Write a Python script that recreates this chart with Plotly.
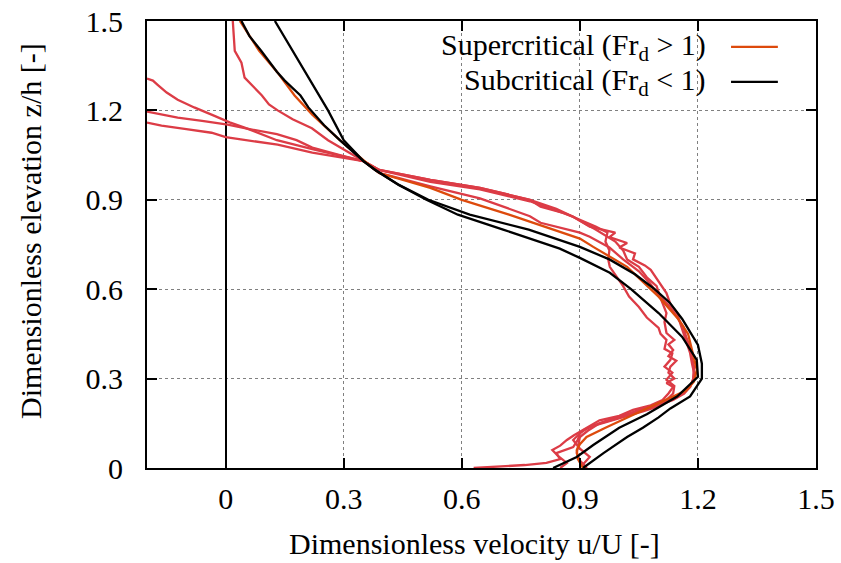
import plotly.graph_objects as go

# ---------------- data (u/U, z/h) ----------------
# Measured supercritical profiles (red)
r1_z = [1.50, 1.45, 1.40, 1.36, 1.33, 1.31, 1.28, 1.25, 1.22, 1.20, 1.17, 1.14, 1.10, 1.07, 1.03,
        0.99, 0.945, 0.905, 0.845, 0.823, 0.79, 0.776, 0.74, 0.70, 0.66, 0.62, 0.58, 0.54, 0.50,
        0.474, 0.44, 0.406, 0.37, 0.34, 0.30, 0.272, 0.25, 0.228, 0.205, 0.185, 0.165, 0.15, 0.125,
        0.104, 0.075, 0.05, 0.025, 0.0]
r1_u = [0.018, 0.02, 0.023, 0.04, 0.045, 0.048, 0.07, 0.092, 0.11, 0.132, 0.17, 0.219, 0.26, 0.30, 0.35,
        0.39, 0.52, 0.646, 0.773, 0.80, 0.90, 0.925, 0.975, 1.01, 1.05, 1.078, 1.10, 1.13, 1.15,
        1.163, 1.17, 1.18, 1.185, 1.19, 1.188, 1.18, 1.16, 1.12, 1.08, 1.035, 0.99, 0.95, 0.92,
        0.90, 0.895, 0.892, 0.90, 0.918]

r2_z = [1.307, 1.30, 1.286, 1.26, 1.236, 1.21, 1.186, 1.16, 1.142, 1.12, 1.10, 1.07, 1.045, 1.03,
        1.0, 0.967, 0.94, 0.90, 0.877, 0.855, 0.833, 0.81, 0.79, 0.76, 0.73, 0.70, 0.675, 0.64,
        0.61, 0.575, 0.54, 0.505, 0.47, 0.45, 0.43, 0.40, 0.385, 0.363, 0.34, 0.32, 0.296, 0.275,
        0.25, 0.228, 0.205, 0.19, 0.17, 0.155, 0.138, 0.117, 0.095, 0.07, 0.05, 0.03, 0.017,
        0.01, 0.005, 0.0]
r2_u = [-0.2, -0.185, -0.173, -0.15, -0.122, -0.08, -0.036, 0.01, 0.048, 0.09, 0.13, 0.22, 0.30, 0.35,
        0.39, 0.52, 0.646, 0.773, 0.80, 0.86, 0.90, 0.94, 0.97, 0.965, 0.975, 0.972, 0.976, 0.995,
        1.01, 1.025, 1.05, 1.07, 1.10, 1.105, 1.12, 1.115, 1.135, 1.13, 1.115, 1.135, 1.12, 1.14,
        1.137, 1.12, 1.095, 1.06, 1.01, 0.97, 0.925, 0.90, 0.895, 0.883, 0.84, 0.85, 0.815,
        0.76, 0.70, 0.63]

r3_z = [1.196, 1.185, 1.176, 1.165, 1.152, 1.135, 1.12, 1.10, 1.075, 1.05, 1.03,
        1.0, 0.967, 0.94, 0.90, 0.87, 0.843, 0.81, 0.79, 0.775, 0.755, 0.74, 0.72, 0.70, 0.68,
        0.665, 0.625, 0.587, 0.55, 0.52, 0.485, 0.453, 0.42, 0.386, 0.35, 0.32, 0.295, 0.272,
        0.25, 0.228, 0.21, 0.195, 0.175, 0.16, 0.14, 0.128, 0.11, 0.094, 0.065, 0.037, 0.015, 0.0]
r3_u = [-0.2, -0.16, -0.122, -0.06, 0.005, 0.07, 0.13, 0.18, 0.22, 0.29, 0.35,
        0.39, 0.52, 0.646, 0.773, 0.84, 0.883, 0.925, 0.99, 0.975, 1.02, 1.00, 1.04, 1.035, 1.065,
        1.08, 1.10, 1.12, 1.13, 1.147, 1.155, 1.163, 1.17, 1.18, 1.185, 1.19, 1.188, 1.18,
        1.165, 1.137, 1.10, 1.05, 1.01, 0.97, 0.93, 0.91, 0.895, 0.883, 0.90, 0.925, 0.91, 0.908]

r4_z = [1.159, 1.149, 1.137, 1.125, 1.11, 1.10, 1.085, 1.058, 1.03, 1.0, 0.96, 0.935, 0.895,
        0.856, 0.843, 0.80, 0.76, 0.73, 0.70, 0.675, 0.64, 0.61, 0.57, 0.52, 0.49, 0.453, 0.43,
        0.415, 0.396, 0.375, 0.36, 0.34, 0.32, 0.30, 0.285, 0.272, 0.25, 0.228, 0.21, 0.195,
        0.175, 0.16, 0.145, 0.128, 0.11, 0.094, 0.075, 0.06, 0.04, 0.017, 0.0]
r4_u = [-0.2, -0.163, -0.1, -0.036, 0.0, 0.05, 0.132, 0.22, 0.35, 0.39, 0.52, 0.646, 0.773,
        0.857, 0.883, 0.94, 0.99, 1.01, 1.02, 1.05, 1.07, 1.095, 1.105, 1.12, 1.115, 1.12, 1.14,
        1.125, 1.137, 1.125, 1.145, 1.13, 1.125, 1.14, 1.12, 1.137, 1.125, 1.11, 1.08, 1.035,
        1.00, 0.95, 0.93, 0.91, 0.885, 0.867, 0.85, 0.83, 0.845, 0.867, 0.85]

# Mean supercritical profile (orange)
sup_z = [1.50, 1.40, 1.33, 1.25, 1.186, 1.10, 1.03, 0.99, 0.94, 0.90, 0.85, 0.80, 0.77, 0.742,
         0.675, 0.575, 0.50, 0.45, 0.37, 0.33, 0.29, 0.26, 0.218, 0.17, 0.135, 0.104, 0.08, 0.06,
         0.03, 0.0]
sup_u = [0.036, 0.085, 0.13, 0.175, 0.22, 0.29, 0.353, 0.39, 0.52, 0.60, 0.72, 0.83, 0.90, 0.934,
         1.02, 1.10, 1.15, 1.175, 1.19, 1.197, 1.19, 1.17, 1.10, 1.02, 0.965, 0.917, 0.90, 0.892,
         0.895, 0.908]

# Subcritical profiles (black)
sub1_z = [1.50, 1.40, 1.30, 1.20, 1.10, 1.03, 1.00, 0.95, 0.90, 0.85, 0.80, 0.742, 0.70, 0.65,
          0.60, 0.554, 0.50, 0.44, 0.413, 0.35, 0.30, 0.24, 0.20, 0.17, 0.135, 0.104, 0.05, 0.0]
sub1_u = [0.125, 0.17, 0.215, 0.26, 0.30, 0.35, 0.38, 0.44, 0.515, 0.62, 0.77, 0.90, 0.975, 1.04,
          1.09, 1.129, 1.16, 1.187, 1.20, 1.21, 1.21, 1.18, 1.13, 1.10, 1.06, 1.02, 0.96, 0.908]

sub2_z = [1.50, 1.45, 1.40, 1.33, 1.30, 1.25, 1.21, 1.15, 1.10, 1.03, 1.00, 0.95, 0.90, 0.85,
          0.80, 0.736, 0.705, 0.655, 0.60, 0.52, 0.44, 0.363, 0.306, 0.24, 0.18, 0.135, 0.077,
          0.037, 0.0]
sub2_u = [0.04, 0.06, 0.09, 0.13, 0.15, 0.19, 0.21, 0.25, 0.29, 0.35, 0.38, 0.44, 0.51, 0.59,
          0.705, 0.849, 0.90, 0.976, 1.03, 1.10, 1.16, 1.197, 1.20, 1.147, 1.07, 1.00, 0.934,
          0.892, 0.832]

x_ticks = [0, 0.3, 0.6, 0.9, 1.2, 1.5]
x_labels = ["0", "0.3", "0.6", "0.9", "1.2", "1.5"]
y_ticks = [0, 0.3, 0.6, 0.9, 1.2, 1.5]
y_labels = ["0", "0.3", "0.6", "0.9", "1.2", "1.5"]

RED = "#dc3c46"
ORANGE = "#dd4a0c"
BLACK = "#000000"
FONT = "Liberation Serif, Times New Roman, serif"
FS = 30

fig = go.Figure()
for zz, uu in [(r1_z, r1_u), (r2_z, r2_u), (r3_z, r3_u), (r4_z, r4_u)]:
    fig.add_trace(go.Scatter(x=uu, y=zz, mode="lines", line=dict(color=RED, width=2.3),
                             showlegend=False, hoverinfo="skip"))
fig.add_trace(go.Scatter(x=sup_u, y=sup_z, mode="lines", line=dict(color=ORANGE, width=2.3),
                         name="Supercritical", showlegend=False))
for zz, uu in [(sub1_z, sub1_u), (sub2_z, sub2_u)]:
    fig.add_trace(go.Scatter(x=uu, y=zz, mode="lines", line=dict(color=BLACK, width=2.3),
                             showlegend=False))

axis_common = dict(
    showline=True, linecolor="black", linewidth=2, mirror="ticks",
    ticks="inside", ticklen=10, tickwidth=2, tickcolor="black",
    showgrid=True, gridcolor="#808080", gridwidth=1, griddash="dot",
    tickfont=dict(family=FONT, size=FS, color="black"),
    automargin=False,
)

fig.update_xaxes(range=[-0.2, 1.5], tickvals=x_ticks, ticktext=x_labels,
                 zeroline=True, zerolinecolor="black", zerolinewidth=1.5,
                 ticklabelstandoff=3, **axis_common)
fig.update_yaxes(range=[0, 1.5], tickvals=y_ticks, ticktext=y_labels, zeroline=False,
                 ticklabelstandoff=16, **axis_common)

# Axis titles
fig.add_annotation(xref="paper", yref="paper", x=0.49, y=-0.17,
                   text="Dimensionless velocity u/U [-]", showarrow=False,
                   xanchor="center", yanchor="middle",
                   font=dict(family=FONT, size=FS, color="black"))
fig.add_annotation(xref="paper", yref="paper", x=-0.175, y=0.53,
                   text="Dimensionless elevation z/h [-]", showarrow=False, textangle=-90,
                   xanchor="center", yanchor="middle",
                   font=dict(family=FONT, size=FS, color="black"))

# Legend (text right-aligned, line sample on the right, as in the original)
legend_rows = [("Supercritical (Fr<sub>d</sub> > 1)", ORANGE, 0.942),
               ("Subcritical (Fr<sub>d</sub> < 1)", BLACK, 0.864)]
for text, col, yp in legend_rows:
    fig.add_annotation(xref="paper", yref="paper", x=0.838, y=yp, text=text, showarrow=False,
                       xanchor="right", yanchor="middle",
                       font=dict(family=FONT, size=FS, color="black"))
    fig.add_shape(type="line", xref="paper", yref="paper", x0=0.873, x1=0.943, y0=yp, y1=yp,
                  line=dict(color=col, width=2.3))

fig.update_layout(
    width=841, height=563,
    margin=dict(l=147, r=25, t=21, b=95),
    paper_bgcolor="white", plot_bgcolor="white",
    font=dict(family=FONT, color="black"),
    showlegend=False,
)

fig.write_html("out.html", config={"displayModeBar": False},
               post_script="document.body.style.margin='0px';document.body.style.overflow='hidden';")
